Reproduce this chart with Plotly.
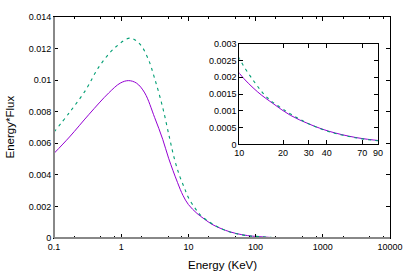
import plotly.graph_objects as go

# ---- data ----
energy_solid = [0.1, 0.17, 0.333, 0.652, 0.967, 1.28, 1.69, 2.24, 3.14, 4.15, 5.08, 6.88, 8.3,
                10, 13.4, 17.3, 22.4, 30.5, 41.5, 62.5, 90, 102, 200]
flux_solid = [0.00536, 0.00640, 0.00784, 0.00919, 0.00981, 0.00997, 0.00981, 0.00919, 0.00764,
              0.00625, 0.00505, 0.00352, 0.00270,
              0.00212, 0.00156, 0.00120, 0.00087, 0.00060, 0.00039, 0.00021, 0.000117, 0.0001,
              0.00001]

energy_dashed = [0.1, 0.17, 0.298, 0.466, 0.818, 1.355, 1.90, 2.51, 3.14, 4.15, 5.2, 6.15, 7.3,
                 8.63, 10, 12.7, 15.6, 21.3, 26.1, 30.5, 41.5, 62.5, 90, 102, 200]
flux_dashed = [0.00671, 0.00795, 0.00939, 0.01084, 0.01208, 0.01266, 0.01228, 0.01136, 0.01012,
               0.00826, 0.00640, 0.00506, 0.00400, 0.00322,
               0.00256, 0.00186, 0.00139, 0.00097, 0.00075, 0.00060, 0.00038, 0.00020, 0.00011,
               0.0001, 0.00001]

main_xticks = [0.1, 1, 10, 100, 1000, 10000]
main_xlabels = ["0.1", "1", "10", "100", "1000", "10000"]
main_xminor = [m * d for d in [0.1, 1, 10, 100, 1000] for m in (2, 5, 8)]
main_yticks = [0, 0.002, 0.004, 0.006, 0.008, 0.01, 0.012, 0.014]
main_ylabels = ["0", "0.002", "0.004", "0.006", "0.008", "0.01", "0.012", "0.014"]

inset_xticks = [10, 20, 30, 40, 70, 90]
inset_xlabels = ["10", "20", "30", "40", "70", "90"]
inset_yticks = [0, 0.0005, 0.001, 0.0015, 0.002, 0.0025, 0.003]
inset_ylabels = ["0", "0.0005", "0.001", "0.0015", "0.002", "0.0025", "0.003"]

PURPLE = "#9400D3"
GREEN = "#009E73"
FONT = "Liberation Sans"

fig = go.Figure()
for xa, ya in (("x", "y"), ("x2", "y2")):
    fig.add_trace(go.Scatter(x=energy_solid, y=flux_solid, mode="lines", xaxis=xa, yaxis=ya,
                             line=dict(color=PURPLE, width=1, shape="spline"), showlegend=False))
    fig.add_trace(go.Scatter(x=energy_dashed, y=flux_dashed, mode="lines", xaxis=xa, yaxis=ya,
                             line=dict(color=GREEN, width=1.1, shape="spline", dash="3px,4px"),
                             showlegend=False))

tickfont = dict(family=FONT, size=9, color="#000")

fig.update_layout(
    width=415, height=273,
    margin=dict(l=54, r=16, t=12, b=35),
    paper_bgcolor="white", plot_bgcolor="white",
    font=dict(family=FONT, size=9, color="#000"),
    xaxis=dict(type="log", range=[-1, 4], tickmode="array", tickvals=main_xticks,
               ticktext=main_xlabels, ticks="inside", ticklen=4, tickcolor="#000",
               showline=True, linecolor="#000", linewidth=1, mirror="ticks",
               showgrid=False, zeroline=False, tickfont=tickfont,
               minor=dict(tickmode="array", tickvals=main_xminor, ticks="inside",
                          ticklen=2, tickcolor="#000", showgrid=False)),
    yaxis=dict(range=[0, 0.014], tickmode="array", tickvals=main_yticks,
               ticktext=main_ylabels, ticks="inside", ticklen=4, tickcolor="#000",
               showline=True, linecolor="#000", linewidth=1, mirror="ticks",
               showgrid=False, zeroline=False, tickfont=tickfont),
    xaxis2=dict(domain=[0.5516, 0.9643], anchor="y2", type="log", range=[1, 1.9542],
                tickmode="array", tickvals=inset_xticks, ticktext=inset_xlabels,
                ticks="inside", ticklen=4, tickcolor="#000",
                showline=True, linecolor="#000", linewidth=1, mirror="ticks",
                showgrid=False, zeroline=False, tickfont=tickfont),
    yaxis2=dict(domain=[0.4235, 0.879], anchor="x2", range=[0, 0.003],
                tickmode="array", tickvals=inset_yticks, ticktext=inset_ylabels,
                ticks="inside", ticklen=4, tickcolor="#000",
                showline=True, linecolor="#000", linewidth=1, mirror="ticks",
                showgrid=False, zeroline=False, tickfont=tickfont),
    shapes=[
        dict(type="line", xref="paper", yref="paper", x0=0, x1=1, y0=0, y1=0,
             line=dict(color="#888", width=2)),
        dict(type="line", xref="paper", yref="paper", x0=0, x1=0, y0=0, y1=1,
             line=dict(color="#888", width=2)),
    ],
    annotations=[
        dict(text="Energy (KeV)", xref="paper", yref="paper", x=0.5, y=0, yshift=-27,
             showarrow=False, xanchor="center", yanchor="middle",
             font=dict(family=FONT, size=11.5, color="#000")),
        dict(text="Energy*Flux", xref="paper", yref="paper", x=0, y=0.5, xshift=-45,
             showarrow=False, xanchor="center", yanchor="middle", textangle=-90,
             font=dict(family=FONT, size=11.5, color="#000")),
    ],
)

fig.write_html("out.html", config={"displayModeBar": False},
               post_script="document.body.style.margin='0';document.body.style.overflow='hidden';")
